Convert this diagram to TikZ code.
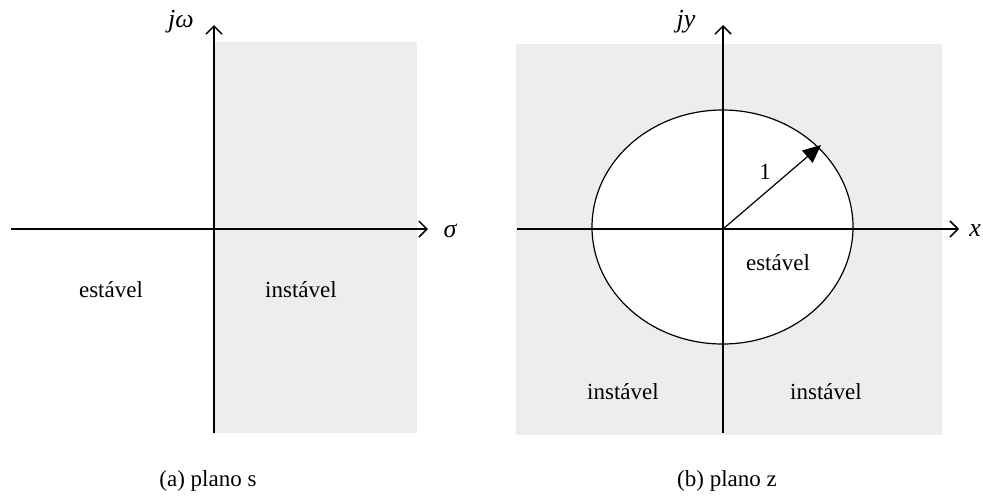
\documentclass[tikz,border=0pt]{standalone}
\usepackage{fontspec}
\setmainfont{Liberation Serif}
\usetikzlibrary{arrows.meta}
\begin{document}
\begin{tikzpicture}[x=0.5pt,y=-0.5pt,
  font=\fontsize{11.5}{13}\selectfont,
  axis/.style={line width=0.8pt,-{Straight Barb[length=4pt,width=8pt,line width=0.75pt]}},
  region/.style={fill=black!7},
  lbl/.style={inner sep=0pt},
  axlbl/.style={inner sep=0pt,font=\fontsize{13}{15}\selectfont\itshape}]
\useasboundingbox (0,0) rectangle (983,495);
% ---- s-plane ----
\fill[region] (214,42) rectangle (417,433);
\coordinate (sL) at (11,229);
\coordinate (sR) at (428,229);
\coordinate (sB) at (214,433);
\coordinate (sT) at (214,25);
\draw[axis] (sL) -- (sR);
\draw[axis] (sB) -- (sT);
\node[axlbl] (jw) at (181,22) {jω};
\node[axlbl] (sigma) at (450,231) {σ};
\node[lbl] (est1) at (111,290) {estável};
\node[lbl] (inst1) at (301,290) {instável};
\node[lbl] (capa) at (208,481) {(a) plano s};
% ---- z-plane ----
\fill[region] (516,44) rectangle (942,435);
\draw[line width=0.6pt, fill=white] (722.5,227) ellipse [x radius=65.25pt, y radius=58.5pt];
\coordinate (zL) at (517,229);
\coordinate (zR) at (959,229);
\coordinate (zB) at (723,433);
\coordinate (zT) at (723,25);
\coordinate (zO) at (723,229);
\coordinate (zP) at (821,145);
\draw[axis] (zL) -- (zR);
\draw[axis] (zB) -- (zT);
\draw[line width=0.6pt,-{Triangle[length=9pt,width=8pt]}] (zO) -- (zP);
\node[axlbl] (jy) at (686,22) {jy};
\node[axlbl] (xl) at (975,231) {x};
\node[lbl] (one) at (765,172) {1};
\node[lbl] (est2) at (778,263) {estável};
\node[lbl] (inst2) at (623,392) {instável};
\node[lbl] (inst3) at (826,392) {instável};
\node[lbl] (capb) at (727,481) {(b) plano z};
\end{tikzpicture}
\end{document}
